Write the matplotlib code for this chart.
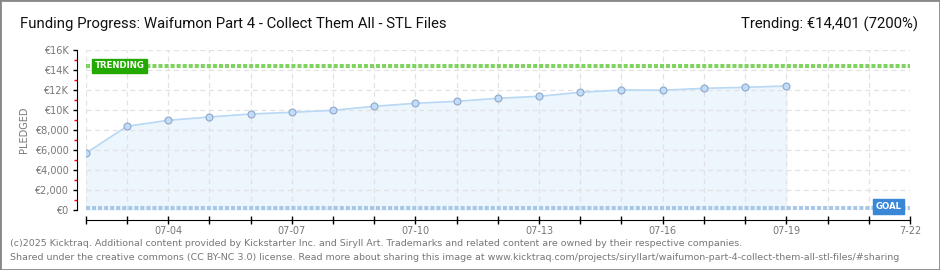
import numpy as np
import matplotlib
matplotlib.use('Agg')
import matplotlib.pyplot as plt
from matplotlib.patches import Rectangle

# daily pledged totals, 07-02 .. 07-19
dates = ['07-02', '07-03', '07-04', '07-05', '07-06', '07-07', '07-08', '07-09', '07-10',
         '07-11', '07-12', '07-13', '07-14', '07-15', '07-16', '07-17', '07-18', '07-19']
pledged = [5670, 8370, 8970, 9300, 9600, 9770, 9970, 10370, 10670,
           10870, 11170, 11370, 11770, 12000, 11970, 12170, 12270, 12400]
trending = 14401
goal = 200
tick_labels = ['', '', '07-04', '', '', '07-07', '', '', '07-10', '', '', '07-13',
               '', '', '07-16', '', '', '07-19', '', '', '7-22']
ytick_vals = [0, 2000, 4000, 6000, 8000, 10000, 12000, 14000, 16000]
ytick_labels = ['€0', '€2,000', '€4,000', '€6,000', '€8,000', '€10K', '€12K', '€14K', '€16K']

head_font = ['Roboto', 'DejaVu Sans']
grey = '#777777'

fig = plt.figure(figsize=(9.4, 2.7), dpi=100)
ax = fig.add_axes([85.7/940, 60/270, (910-85.7)/940, 160/270])

x = np.arange(len(pledged))
ax.fill_between(x, pledged, 0, color='#edf5fd', zorder=1)
ax.plot(x, pledged, color='#b8d8f5', lw=1.2, zorder=3)
ax.plot(x, pledged, 'o', ms=5, mfc='#c0dcf8', mec='#8fa8c8', mew=0.8, zorder=4)

# trending / goal lines
ax.axhline(trending, color='#7fd35f', lw=2.9, dashes=(1, 0.5), zorder=5)
ax.axhline(goal, color='#a8c8e8', lw=2.9, dashes=(1, 0.5), zorder=5)
ax.text(0.22, trending, 'TRENDING', color='white', fontsize=6.2, fontweight='bold',
        va='center', ha='left', zorder=6,
        bbox=dict(boxstyle='square,pad=0.3', fc='#22aa00', ec='#22aa00'))
ax.text(19.8, goal + 150, 'GOAL', color='white', fontsize=6.2, fontweight='bold',
        va='center', ha='right', zorder=6,
        bbox=dict(boxstyle='square,pad=0.3', fc='#3a87d8', ec='#3a87d8'))

ax.set_xlim(0, 20)
ax.set_ylim(0, 16000)
ax.set_xticks(np.arange(21))
ax.set_xticklabels(tick_labels)
ax.set_yticks(ytick_vals)
ax.set_yticklabels(ytick_labels)
ax.set_yticks(np.arange(1000, 16000, 2000), minor=True)
ax.grid(True, color='#e2e2e2', ls=(0, (4, 3)), lw=0.9, zorder=0)

for s in ['top', 'right']:
    ax.spines[s].set_visible(False)
ax.spines['left'].set_position(('outward', 6.5))
ax.spines['bottom'].set_position(('outward', 7.2))
ax.tick_params(axis='y', length=3, width=1, color='black', labelsize=7, labelcolor=grey, pad=3)
ax.tick_params(axis='y', which='minor', length=2.5, width=1, color='red')
ax.tick_params(axis='x', direction='inout', length=6, width=1, labelsize=7, labelcolor=grey, pad=1)
ax.set_ylabel('PLEDGED', fontsize=7, color=grey, labelpad=4)

fig.text(20/940, 1 - 24/270, 'Funding Progress: Waifumon Part 4 - Collect Them All - STL Files',
         family=head_font, fontsize=10.7, color='#111111', va='center', ha='left')
fig.text(918/940, 1 - 24/270, 'Trending: €14,401 (7200%)',
         family=head_font, fontsize=10.7, color='#111111', va='center', ha='right')
fig.text(10/940, 1 - 243/270,
         '(c)2025 Kicktraq. Additional content provided by Kickstarter Inc. and Siryll Art. '
         'Trademarks and related content are owned by their respective companies.',
         fontsize=6.8, color=grey, va='center', ha='left')
fig.text(10/940, 1 - 257/270,
         'Shared under the creative commons (CC BY-NC 3.0) license. Read more about sharing this image at '
         'www.kicktraq.com/projects/siryllart/waifumon-part-4-collect-them-all-stl-files/#sharing',
         fontsize=6.8, color=grey, va='center', ha='left')

fig.patches.append(Rectangle((0, 0), 1, 1, transform=fig.transFigure, fill=False,
                             ec='#888888', lw=2))

fig.savefig('out.png', dpi=100)
